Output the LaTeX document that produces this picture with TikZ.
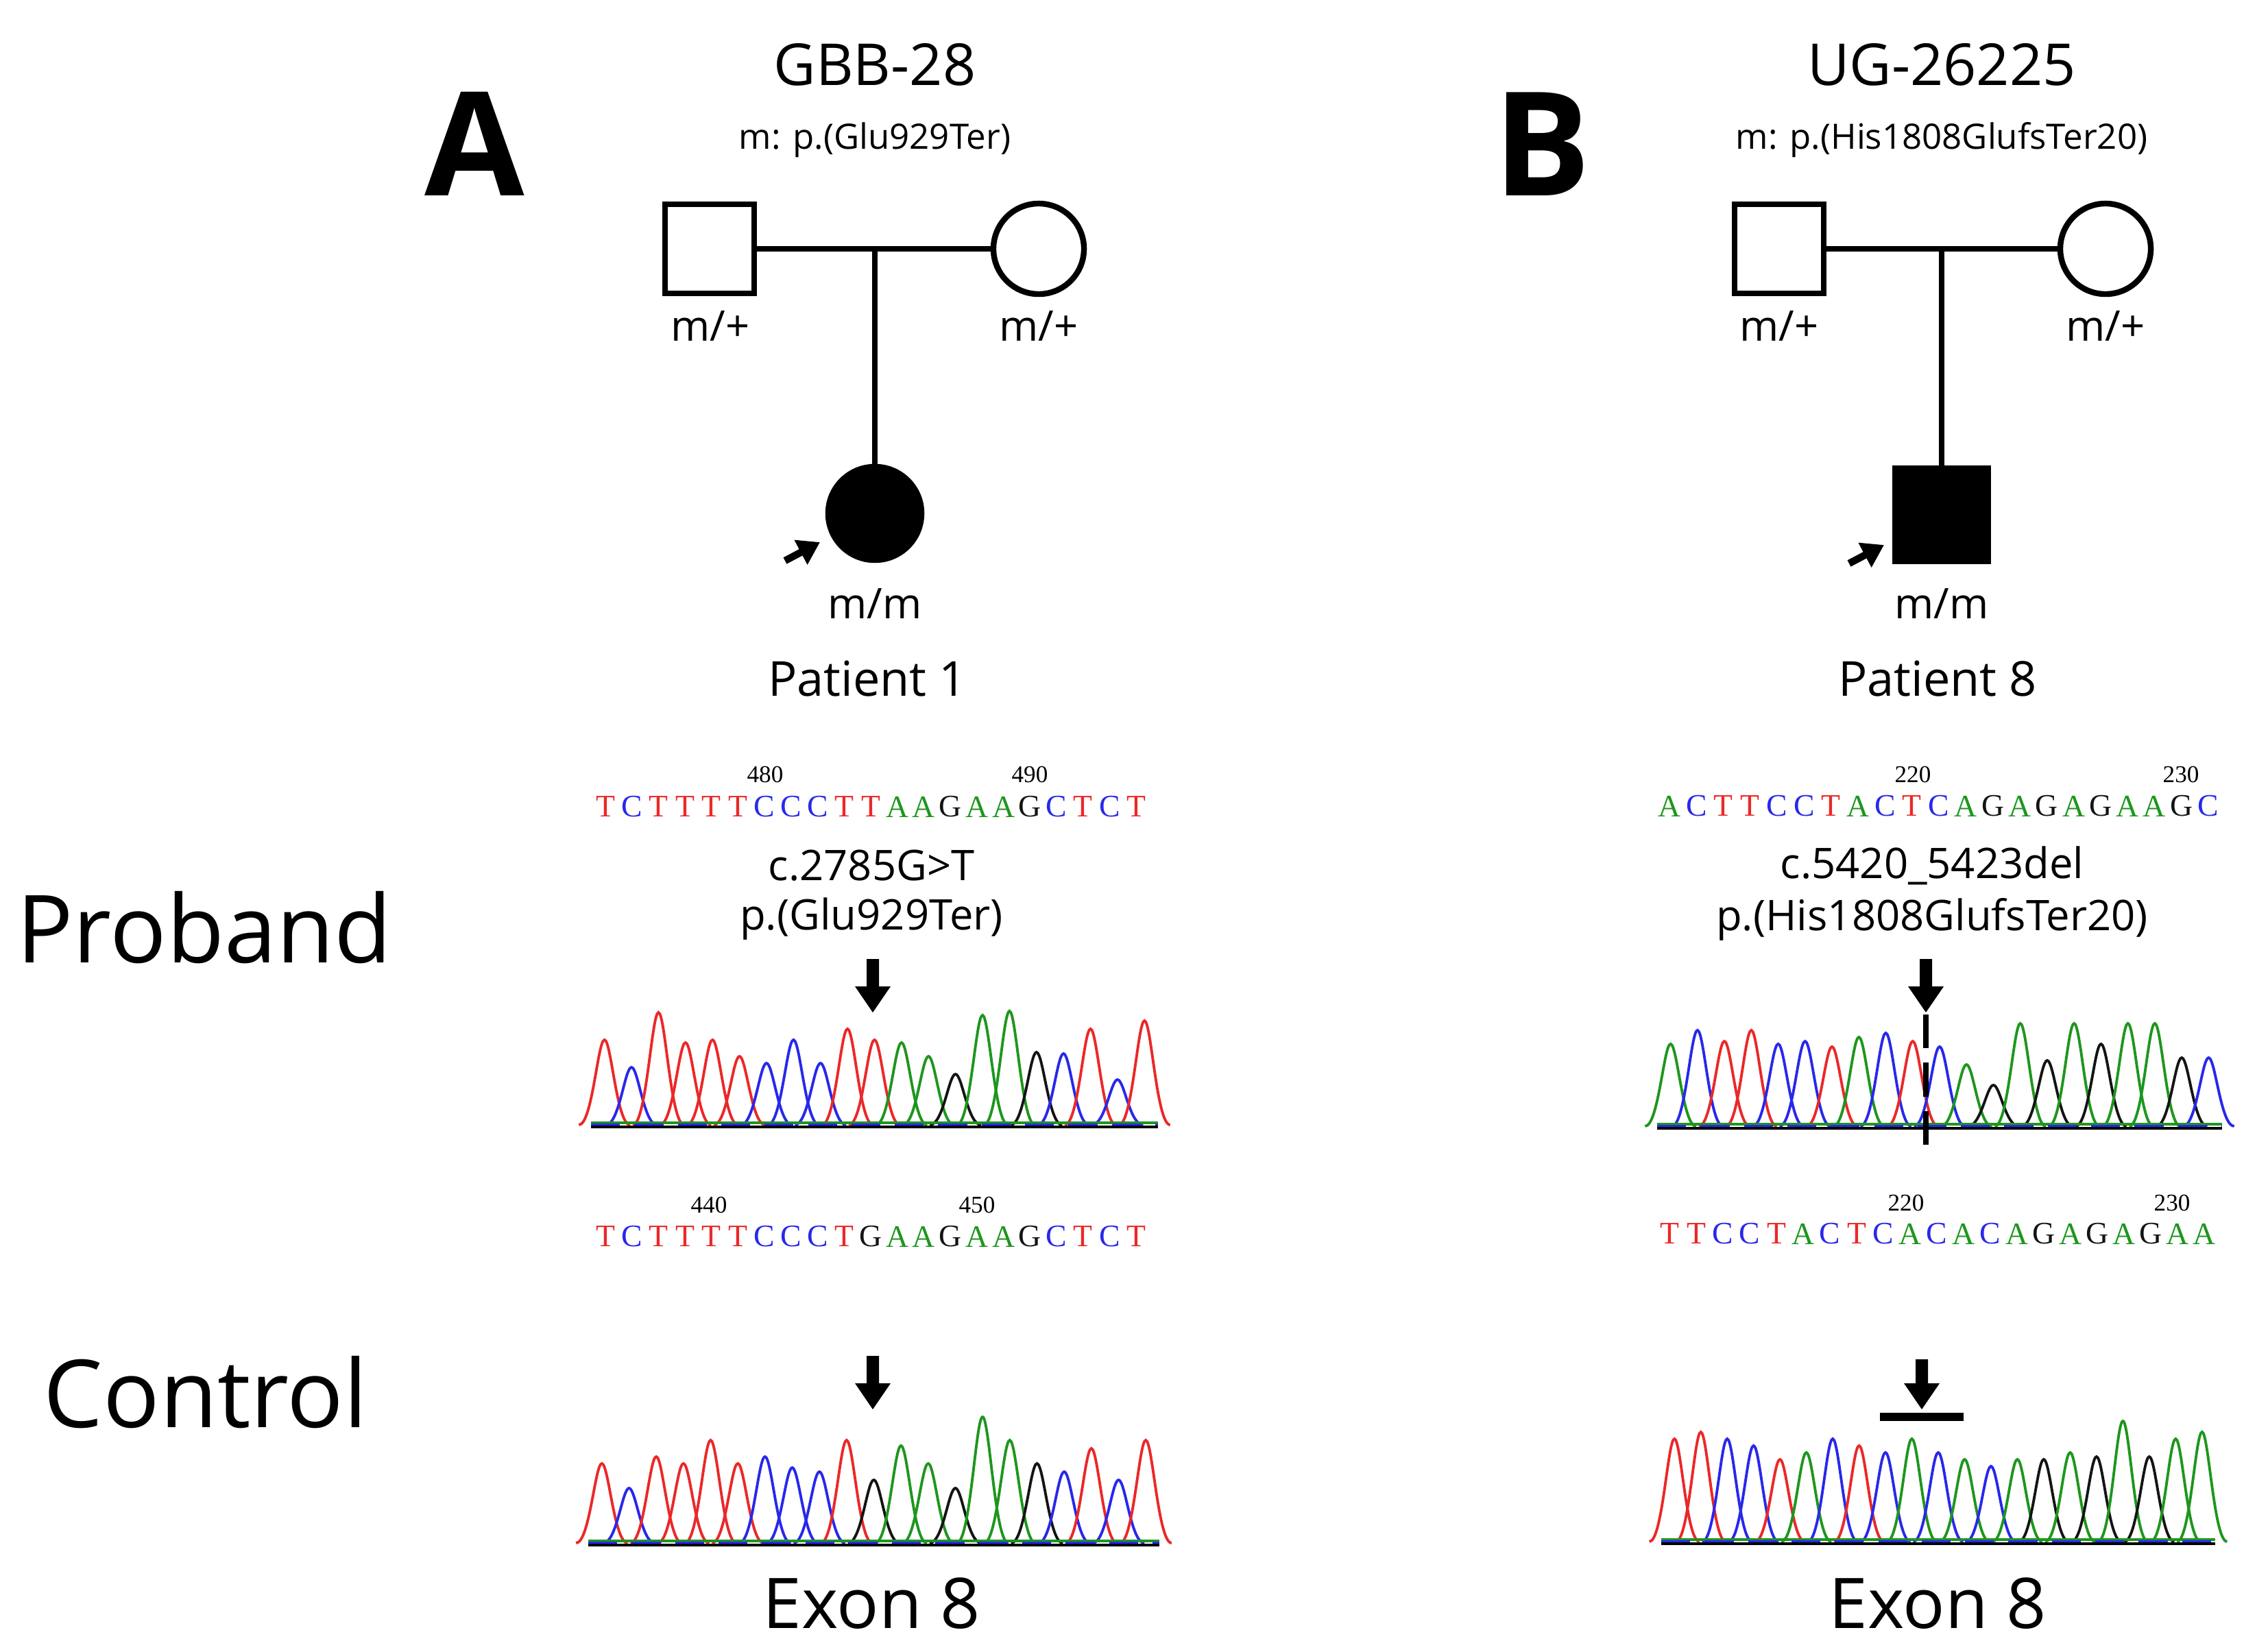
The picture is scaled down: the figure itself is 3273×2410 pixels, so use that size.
\documentclass[tikz,border=0pt]{standalone}
\usepackage{fontspec}
\setmainfont{Open Sans}
\newfontfamily\seqf{Liberation Serif}
\usetikzlibrary{arrows.meta}
\definecolor{colT}{RGB}{235,40,40}
\definecolor{colC}{RGB}{40,40,235}
\definecolor{colA}{RGB}{30,150,30}
\definecolor{colG}{RGB}{20,20,20}
\newcommand{\seqrow}[4]{% x0, step, y, letters
  \foreach \b [count=\i] in {#4}{
    \node[text=col\b,font=\seqf\fontsize{13}{13}\selectfont] at ({#1+(\i-1)*#2},#3) {\b};}}
\newcommand{\chrom}[4]{% x0, x1, base, list
  \pgfmathsetmacro{\cw}{(#2-#1)/21}
  \foreach \b/\h [count=\i] in {#4}{
    \pgfmathsetmacro{\xc}{#1+(\i-0.5)*\cw}
    \pgfmathsetmacro{\tp}{#3-\h*200}
    \draw[col\b,line width=1.1pt] ({\xc-0.95*\cw},#3) .. controls ({\xc-0.45*\cw},#3) and ({\xc-0.25*\cw},\tp) .. (\xc,\tp) .. controls ({\xc+0.25*\cw},\tp) and ({\xc+0.45*\cw},#3) .. ({\xc+0.95*\cw},#3);}
  \draw[colA,line width=1.2pt] (#1,#3-3) -- (#2,#3-3);
  \draw[colC,line width=1.2pt,dash pattern=on 12pt off 6pt] (#1,#3) -- (#2,#3);
  \draw[black,line width=1pt] (#1,#3+3) -- (#2,#3+3);}
\newcommand{\bigarrow}[3]{% x, ytop, ybottom
  \fill (#1-9,#2) -- (#1+9,#2) -- (#1+9,#3-38) -- (#1+26,#3-38) -- (#1,#3) -- (#1-26,#3-38) -- (#1-9,#3-38) -- cycle;}
\begin{document}
\begin{tikzpicture}[x=0.01cm,y=-0.01cm,
  ped/.style={draw,line width=2.4pt,minimum size=1.3cm,inner sep=0},
  lbl/.style={font=\fontsize{17.5}{18}\selectfont},
  line/.style={line width=2.4pt},
  small/.style={line width=3pt,-{Triangle[length=9pt,width=11pt]}}]
\useasboundingbox (0,0) rectangle (3273,2410);
% panel letters
\node[font=\bfseries\fontsize{60}{60}\selectfont] (LA) at (692,210) {A};
\node[font=\bfseries\fontsize{60}{60}\selectfont] (LB) at (2249,210) {B};
\node[font=\fontsize{39}{39}\selectfont] (pro) at (298,1353) {Proband};
\node[font=\fontsize{39}{39}\selectfont] (con) at (300,2031) {Control};
% ---- A pedigree
\node[font=\fontsize{24}{24}\selectfont] (ta) at (1276,94) {GBB-28};
\node[font=\fontsize{14.5}{15}\selectfont] (ma) at (1276,204) {m: p.(Glu929Ter)};
\node[ped,rectangle] (fa) at (1035,363) {};
\node[ped,circle,minimum size=1.32cm] (mo) at (1515,363) {};
\draw[line] (fa.east) -- (mo.west);
\coordinate (ja) at (1276,363);
\node[ped,circle,fill=black,minimum size=1.36cm] (pa) at (1276,749) {};
\draw[line] (ja) -- (pa.north);
\node[lbl] (fal) at (1036,476) {m/+};
\node[lbl] (mol) at (1515,476) {m/+};
\node[lbl] (pal) at (1276,881) {m/m};
\node[font=\fontsize{20}{20}\selectfont] (p1) at (1265,990) {Patient 1};
\coordinate (sa1) at (1145,818); \coordinate (sa2) at (1196,791);
\draw[small] (sa1) -- (sa2);
% ---- B pedigree
\node[font=\fontsize{24}{24}\selectfont] (tb) at (2832,94) {UG-26225};
\node[font=\fontsize{14.5}{15}\selectfont] (mb) at (2832,204) {m: p.(His1808GlufsTer20)};
\node[ped,rectangle] (fb) at (2595,363) {};
\node[ped,circle,minimum size=1.32cm] (mob) at (3071,363) {};
\draw[line] (fb.east) -- (mob.west);
\coordinate (jb) at (2832,363);
\node[ped,rectangle,fill=black,minimum size=1.36cm] (pb) at (2832,751) {};
\draw[line] (jb) -- (pb.north);
\node[lbl] (fbl) at (2595,476) {m/+};
\node[lbl] (mobl) at (3071,476) {m/+};
\node[lbl] (pbl) at (2832,881) {m/m};
\node[font=\fontsize{20}{20}\selectfont] (p8) at (2826,990) {Patient 8};
\coordinate (sb1) at (2697,822); \coordinate (sb2) at (2748,795);
\draw[small] (sb1) -- (sb2);
% ---- A sequences
\node[font=\seqf\fontsize{10}{10}\selectfont] (n480) at (1116,1130) {480};
\node[font=\seqf\fontsize{10}{10}\selectfont] (n490) at (1502,1130) {490};
\seqrow{883}{38.7}{1177}{T,C,T,T,T,T,C,C,C,T,T,A,A,G,A,A,G,C,T,C,T}
\node[font=\fontsize{17.5}{18}\selectfont] (ca) at (1271,1263) {c.2785G>T};
\node[font=\fontsize{17.5}{18}\selectfont] (pa2) at (1271,1341) {p.(Glu929Ter)};
\bigarrow{1273}{1399}{1477}
\chrom{862}{1689}{1641}{T/.62,C/.42,T/.82,T/.6,T/.62,T/.5,C/.45,C/.62,C/.45,T/.7,T/.62,A/.6,A/.5,G/.37,A/.8,A/.83,G/.53,C/.52,T/.7,C/.33,T/.76}
\node[font=\seqf\fontsize{10}{10}\selectfont] (n440) at (1034,1758) {440};
\node[font=\seqf\fontsize{10}{10}\selectfont] (n450) at (1425,1758) {450};
\seqrow{883}{38.7}{1804}{T,C,T,T,T,T,C,C,C,T,G,A,A,G,A,A,G,C,T,C,T}
\bigarrow{1273}{1978}{2056}
\chrom{858}{1691}{2251}{T/.58,C/.4,T/.63,T/.58,T/.75,T/.58,C/.63,C/.55,C/.52,T/.75,G/.46,A/.71,A/.58,G/.4,A/.92,A/.75,G/.58,C/.52,T/.69,C/.46,T/.75}
\node[font=\fontsize{29}{29}\selectfont] (ea) at (1271,2339) {Exon 8};
% ---- B sequences
\node[font=\seqf\fontsize{10}{10}\selectfont] (n220) at (2790,1130) {220};
\node[font=\seqf\fontsize{10}{10}\selectfont] (n230) at (3181,1130) {230};
\seqrow{2435}{39.3}{1176}{A,C,T,T,C,C,T,A,C,T,C,A,G,A,G,A,G,A,A,G,C}
\node[font=\fontsize{17.5}{18}\selectfont] (cb) at (2818,1263) {c.5420\_5423del};
\node[font=\fontsize{17.5}{18}\selectfont] (pb2) at (2818,1341) {p.(His1808GlufsTer20)};
\bigarrow{2809}{1399}{1477}
\chrom{2417}{3241}{1643}{A/.6,C/.7,T/.62,T/.7,C/.6,C/.62,T/.58,A/.65,C/.68,T/.62,C/.58,A/.45,G/.3,A/.75,G/.48,A/.75,G/.6,A/.75,A/.75,G/.5,C/.5}
\coordinate (db1) at (2809,1480); \coordinate (db2) at (2809,1672);
\draw[line width=2.2pt,dash pattern=on 14pt off 6pt] (db1) -- (db2);
\node[font=\seqf\fontsize{10}{10}\selectfont] (m220) at (2780,1755) {220};
\node[font=\seqf\fontsize{10}{10}\selectfont] (m230) at (3168,1755) {230};
\seqrow{2435}{39}{1800}{T,T,C,C,T,A,C,T,C,A,C,A,C,A,G,A,G,A,G,A,A}
\bigarrow{2803}{1983}{2056}
\coordinate (bar1) at (2742,2067); \coordinate (bar2) at (2864,2067);
\draw[line width=3.5pt] (bar1) -- (bar2);
\chrom{2423}{3231}{2249}{T/.75,T/.8,C/.75,C/.7,T/.6,A/.65,C/.75,T/.7,C/.65,A/.75,C/.65,A/.6,C/.55,A/.6,G/.6,A/.65,G/.62,A/.88,G/.62,A/.75,A/.8}
\node[font=\fontsize{29}{29}\selectfont] (eb) at (2826,2339) {Exon 8};
\end{tikzpicture}
\end{document}
